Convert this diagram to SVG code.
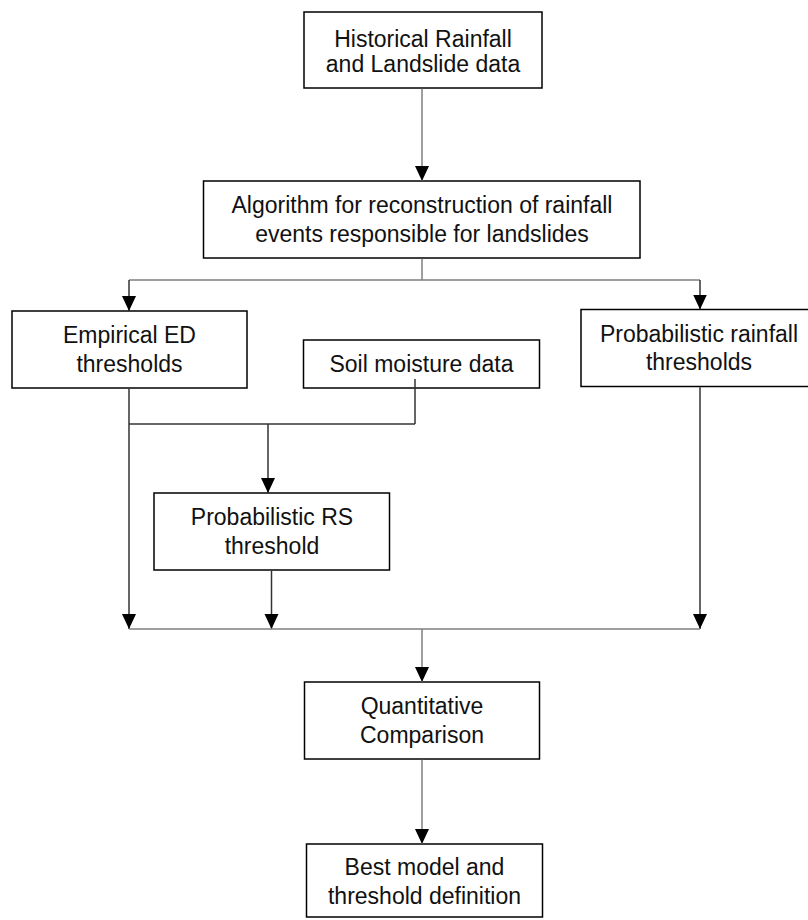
<svg xmlns="http://www.w3.org/2000/svg" width="808" height="920" viewBox="0 0 808 920">
<defs>
<marker id="arr" markerUnits="userSpaceOnUse" markerWidth="15" markerHeight="15" refX="15" refY="7" orient="auto" viewBox="0 0 15 14">
<path d="M0,0 L15,7 L0,14 Z" fill="#000"/>
</marker>
<style>
.box{fill:#fff;stroke:#000;stroke-width:1.5}
.t{font-family:"Liberation Sans",Arial,sans-serif;font-size:23px;fill:#111;text-anchor:middle}
.c{fill:none;stroke:#7f7f7f;stroke-width:1.5}
.d{fill:none;stroke:#333;stroke-width:1.5}
.a{marker-end:url(#arr)}
</style>
</defs>
<rect width="808" height="920" fill="#fff"/>
<g id="historical">
<rect class="box" x="304" y="12" width="238" height="76"/>
<text class="t" x="423" y="46.5">Historical Rainfall</text>
<text class="t" x="423" y="71.5">and Landslide data</text>
</g>
<g id="algorithm">
<rect class="box" x="203.5" y="181" width="436.5" height="77"/>
<text class="t" x="422" y="212.5">Algorithm for reconstruction of rainfall</text>
<text class="t" x="422" y="241.5">events responsible for landslides</text>
</g>
<g id="empirical">
<rect class="box" x="12" y="311" width="235" height="77"/>
<text class="t" x="129.5" y="343">Empirical ED</text>
<text class="t" x="129.5" y="371.5">thresholds</text>
</g>
<g id="soil">
<rect class="box" x="303.5" y="340" width="236" height="48"/>
<text class="t" x="421.5" y="371.5">Soil moisture data</text>
</g>
<g id="probrainfall">
<rect class="box" x="581" y="309.5" width="236" height="77"/>
<text class="t" x="699" y="341.5">Probabilistic rainfall</text>
<text class="t" x="699" y="370">thresholds</text>
</g>
<g id="probrs">
<rect class="box" x="154" y="493" width="235.5" height="77"/>
<text class="t" x="272" y="524.5">Probabilistic RS</text>
<text class="t" x="272" y="553.5">threshold</text>
</g>
<g id="quantitative">
<rect class="box" x="304.5" y="682" width="235" height="77"/>
<text class="t" x="422" y="713.5">Quantitative</text>
<text class="t" x="422" y="742.5">Comparison</text>
</g>
<g id="best">
<rect class="box" x="306.5" y="844" width="236" height="73"/>
<text class="t" x="424.5" y="875">Best model and</text>
<text class="t" x="424.5" y="903.5">threshold definition</text>
</g>
<g id="connectors">
<line class="c a" x1="422" y1="88.75" x2="422" y2="181"/>
<line class="c" x1="422" y1="258.75" x2="422" y2="280"/>
<polyline class="c" points="129,280 700,280"/>
<line class="d a" x1="129" y1="280" x2="129" y2="311"/>
<line class="d a" x1="700" y1="280" x2="700" y2="309.5"/>
<line class="d" x1="129" y1="388.75" x2="129" y2="424"/>
<line class="d" x1="415" y1="379" x2="415" y2="424"/>
<polyline class="d" points="129,424 415,424"/>
<line class="d a" x1="268" y1="424" x2="268" y2="493"/>
<line class="d a" x1="129" y1="424" x2="129" y2="629"/>
<line class="d a" x1="271.5" y1="570.75" x2="271.5" y2="629"/>
<line class="d a" x1="700" y1="387.25" x2="700" y2="629"/>
<polyline class="c" points="129,629 700,629"/>
<line class="c a" x1="422" y1="629" x2="422" y2="682"/>
<line class="c a" x1="422" y1="759.75" x2="422" y2="844"/>
</g>
</svg>
